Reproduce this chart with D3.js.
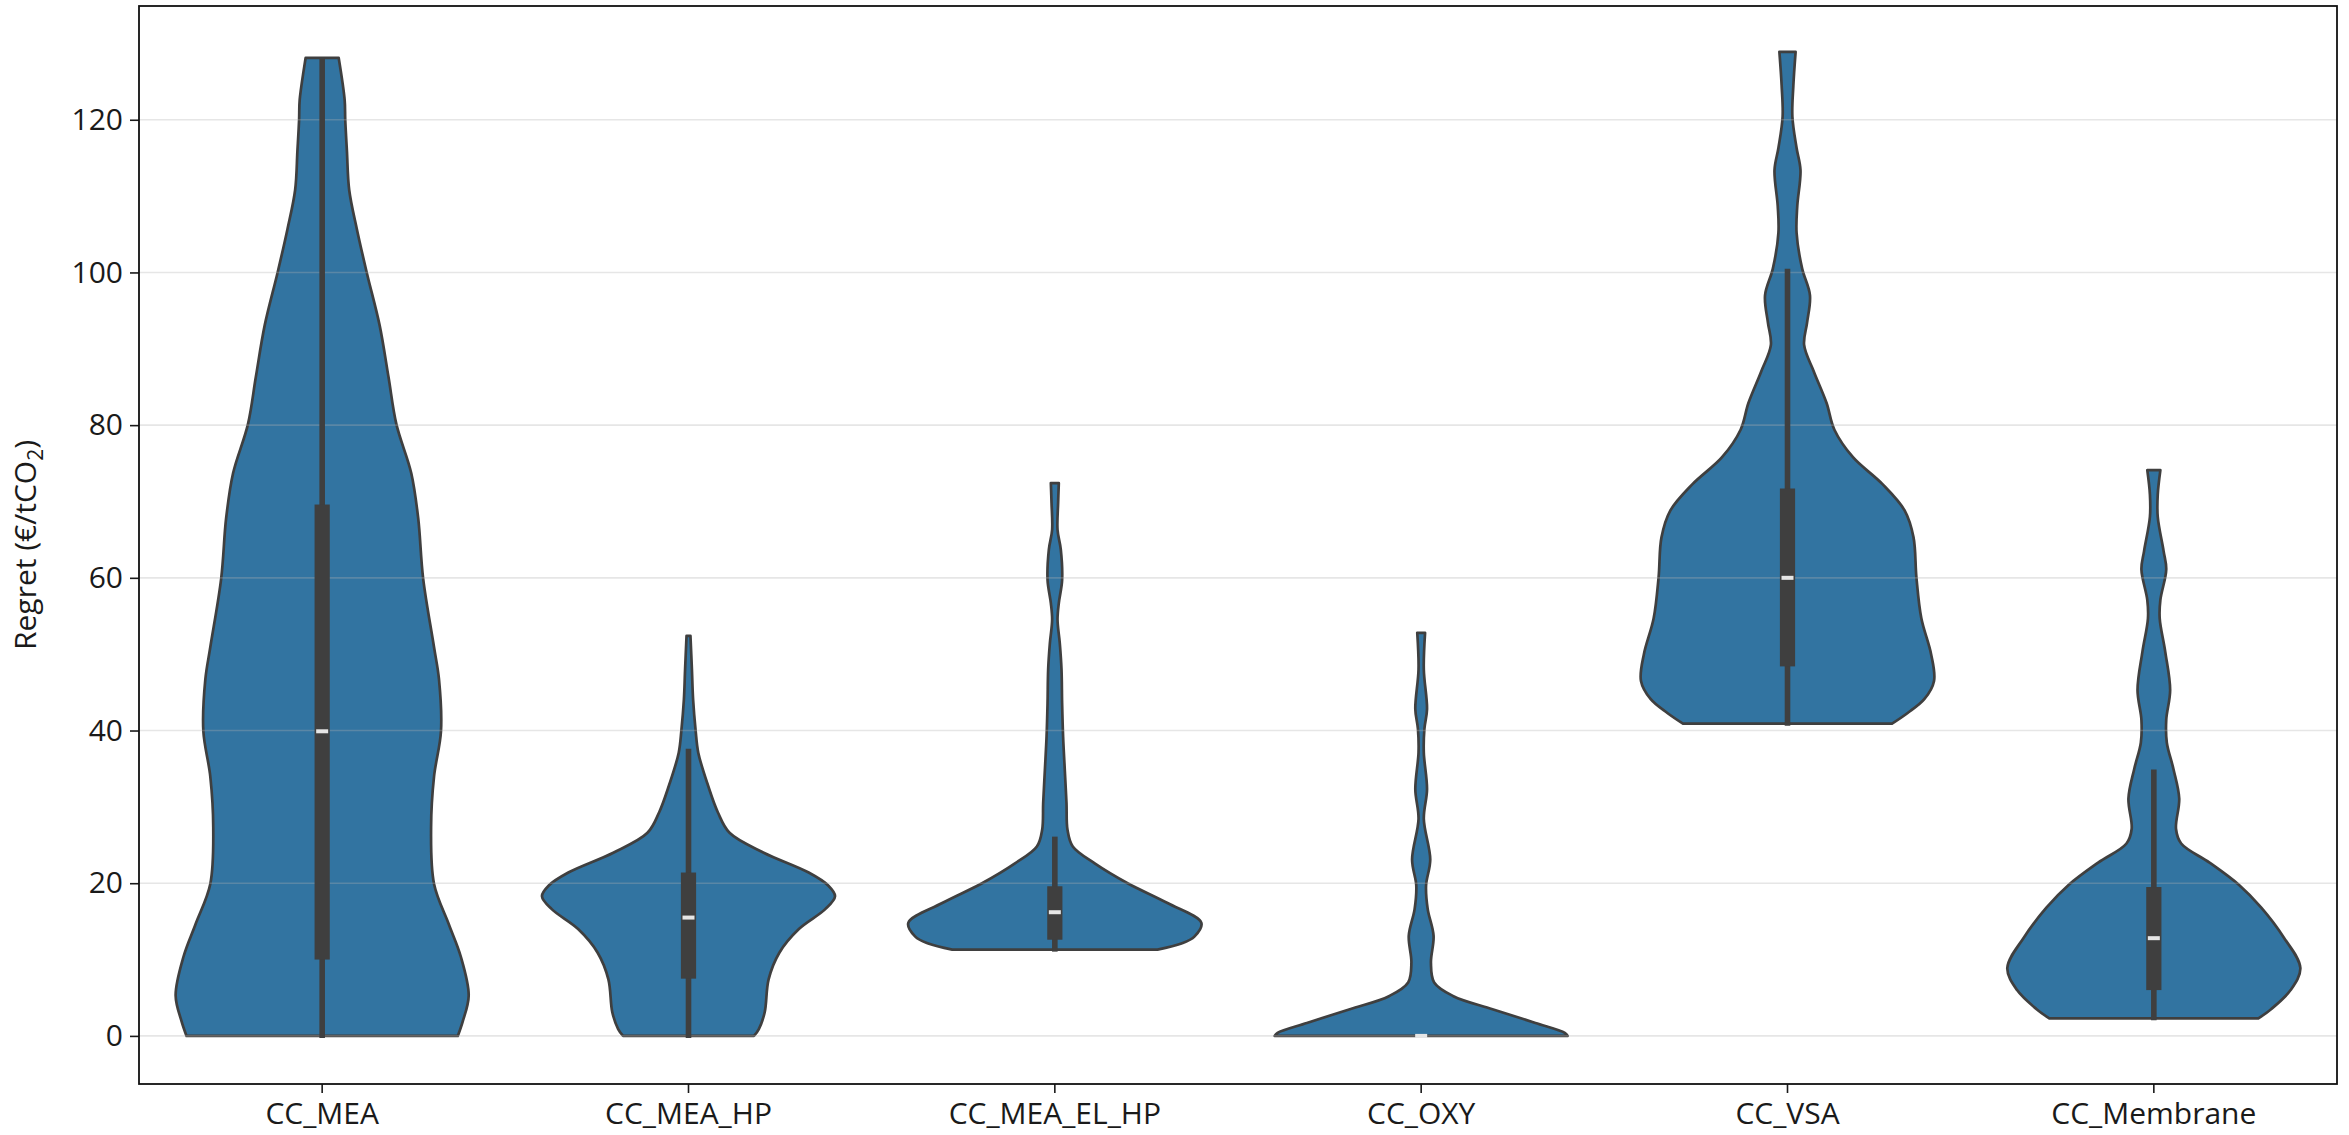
<!DOCTYPE html>
<html>
<head>
<meta charset="utf-8">
<script src="https://cdn.jsdelivr.net/npm/d3@7"></script>
<style>
  html, body { margin: 0; padding: 0; background: #fff; }
  svg { display: block; }
  text { font-family: "Open Sans", "Noto Sans", "DejaVu Sans", sans-serif; fill: #1a1a1a; }
</style>
</head>
<body>
<svg id="chart" width="2349" height="1135"></svg>
<script>
// ---------------- DATA ----------------
const categories = ["CC_MEA", "CC_MEA_HP", "CC_MEA_EL_HP", "CC_OXY", "CC_VSA", "CC_Membrane"];
const yTicks = [0, 20, 40, 60, 80, 100, 120];
const yLabel = "Regret (€/tCO";

// violin outlines: value levels (€/tCO2) and relative density (half-width) at each level
const levels_CC_MEA   = [128.1, 122.6, 120, 115.9, 110.8, 105.7, 100, 93.1, 86.3, 80.1, 73.7, 67.8, 59.9, 50.9, 46.7, 39.9, 34, 27.3, 19.9, 14.6, 10.4, 5.3, 1.9, 0];
const density_CC_MEA  = [16.7, 22.7, 23.3, 25, 27.3, 35, 45, 58, 67, 75, 90, 97, 102, 113, 118, 120, 113, 110, 113, 128, 140, 148, 142, 137];

const levels_CC_MEA_HP  = [52.4, 48, 44.1, 40, 37.1, 32.8, 29.3, 26.6, 24, 21.4, 19.7, 18.3, 16.6, 14, 10.9, 7.4, 3.1, 0.9, 0];
const density_CC_MEA_HP = [2, 3.5, 4.7, 7.3, 10, 20, 30, 42, 77, 123, 143, 150, 140, 113, 93, 82, 78, 72, 67];

const levels_CC_MEA_EL_HP  = [72.4, 69.8, 66.3, 63.7, 59.7, 56.7, 54.5, 51.4, 48, 43.6, 39.2, 34.8, 30.5, 27, 24.8, 22.6, 20, 17.4, 14.8, 13, 12.1, 11.3];
const density_CC_MEA_EL_HP = [4, 3.3, 2.7, 6, 7.3, 4, 2.7, 5, 6.7, 7.3, 8.3, 10, 11.7, 12.7, 18, 40, 73, 113, 147, 140, 127, 103];

const levels_CC_OXY  = [52.8, 48, 42.8, 40.2, 37.1, 32.3, 28.4, 23.1, 19.7, 16.6, 13.1, 9.6, 7, 5.2, 3.5, 1.7, 0.4, 0];
const density_CC_OXY = [4, 2.7, 6, 3.3, 2.7, 6, 2.7, 9.3, 5, 6.7, 12.7, 10, 13.3, 33, 73, 117, 147, 150];

const levels_CC_VSA  = [128.9, 124.5, 120.4, 116.3, 113.4, 108.7, 105.2, 100.5, 97, 93.4, 90.5, 87, 82.9, 79.4, 75.8, 72.3, 68.8, 65.3, 60, 54.7, 50, 46.5, 44.1, 42.3, 40.9];
const density_CC_VSA = [8.3, 6, 5, 9.3, 13.3, 10, 9.3, 15, 23, 20, 17, 27, 40, 48, 67, 97, 120, 129, 132, 137, 147, 150, 140, 123, 107];

const levels_CC_Membrane  = [74.1, 70.9, 68, 63.5, 61.1, 57.1, 54.7, 50.3, 45.3, 41.4, 38.4, 35, 31.1, 27.1, 25.2, 22.7, 19.8, 16.8, 12.9, 8.9, 6, 3.5, 2.3];
const density_CC_Membrane = [6.7, 4, 4, 10, 12.7, 6.7, 6, 11.7, 16.7, 12.7, 13.3, 20, 26, 22.7, 28, 57, 87, 110, 133, 150, 140, 120, 107];

// inner box statistics, one entry per category
const whiskerLow  = [0,    0,    11.3, 0, 40.9, 2.3];
const q1          = [10.0, 7.5,  12.6, 0, 48.4, 6.0];
const median      = [39.9, 15.5, 16.2, 0, 60.0, 12.8];
const q3          = [69.6, 21.4, 19.6, 0, 71.7, 19.5];
const whiskerHigh = [128.1, 37.6, 26.1, 0, 100.5, 34.9];

const levelsList  = [levels_CC_MEA, levels_CC_MEA_HP, levels_CC_MEA_EL_HP, levels_CC_OXY, levels_CC_VSA, levels_CC_Membrane];
const densityList = [density_CC_MEA, density_CC_MEA_HP, density_CC_MEA_EL_HP, density_CC_OXY, density_CC_VSA, density_CC_Membrane];

// ---------------- LAYOUT ----------------
const plot = { left: 139, right: 2337, top: 6, bottom: 1084 };
const svg = d3.select("#chart");

const x = d3.scaleBand().domain(categories).range([plot.left, plot.right]).paddingInner(0).paddingOuter(0);
const y = d3.scaleLinear().domain([-6.3, 134.9]).range([plot.bottom, plot.top]);
const maxHalf = x.bandwidth() * 0.4;

const fillColor = "#3274a1";
const lineColor = "#3f3f3f";

// violins
const gV = svg.append("g");
categories.forEach((cat, i) => {
  const cx = x(cat) + x.bandwidth() / 2;
  const dens = densityList[i];
  const dmax = d3.max(dens);
  const w = d3.scaleLinear().domain([0, dmax]).range([0, maxHalf]);
  const pts = levelsList[i].map((v, k) => ({ v, d: dens[k] }));
  const area = d3.area()
    .y(d => y(d.v))
    .x0(d => cx - w(d.d))
    .x1(d => cx + w(d.d))
    .curve(d3.curveCatmullRom.alpha(0.5));
  gV.append("path")
    .attr("d", area(pts))
    .attr("fill", fillColor)
    .attr("stroke", lineColor)
    .attr("stroke-width", 2.7)
    .attr("stroke-linejoin", "round");
});

// grid (drawn over violin bodies)
svg.append("g").selectAll("line").data(yTicks).join("line")
  .attr("x1", plot.left).attr("x2", plot.right)
  .attr("y1", d => y(d)).attr("y2", d => y(d))
  .attr("stroke", "#b0b0b0").attr("stroke-opacity", 0.32).attr("stroke-width", 1.6);

// inner boxes
const gB = svg.append("g");
categories.forEach((cat, i) => {
  const cx = x(cat) + x.bandwidth() / 2;
  if (whiskerHigh[i] > whiskerLow[i]) {
    gB.append("line")
      .attr("x1", cx).attr("x2", cx)
      .attr("y1", y(whiskerLow[i]) + 2).attr("y2", y(whiskerHigh[i]))
      .attr("stroke", lineColor).attr("stroke-width", 5.6);
  }
  if (q3[i] > q1[i]) {
    gB.append("rect")
      .attr("x", cx - 7.6).attr("width", 15.2)
      .attr("y", y(q3[i])).attr("height", y(q1[i]) - y(q3[i]))
      .attr("fill", lineColor);
  }
  gB.append("rect")
    .attr("x", cx - 6).attr("width", 12)
    .attr("y", y(median[i]) - 2).attr("height", 4)
    .attr("fill", "#e6e6e6");
});

// axes
const yAxis = d3.axisLeft(y).tickValues(yTicks).tickSize(9).tickPadding(7).tickFormat(d3.format("d"));
const gy = svg.append("g").attr("transform", `translate(${plot.left},0)`).call(yAxis);
gy.select(".domain").remove();
gy.selectAll(".tick line").attr("stroke", "#1a1a1a").attr("stroke-width", 1.6);
gy.selectAll(".tick text").attr("font-size", 30).attr("fill", "#1a1a1a");

const xAxis = d3.axisBottom(x).tickSize(9).tickPadding(10);
const gx = svg.append("g").attr("transform", `translate(0,${plot.bottom})`).call(xAxis);
gx.select(".domain").remove();
gx.selectAll(".tick line").attr("stroke", "#1a1a1a").attr("stroke-width", 1.6);
gx.selectAll(".tick text").attr("font-size", 30).attr("fill", "#1a1a1a");

// frame
svg.append("rect")
  .attr("x", plot.left).attr("y", plot.top)
  .attr("width", plot.right - plot.left).attr("height", plot.bottom - plot.top)
  .attr("fill", "none").attr("stroke", "#111").attr("stroke-width", 1.8);

// y label
const yl = svg.append("text")
  .attr("transform", `translate(36,${(plot.top + plot.bottom) / 2}) rotate(-90)`)
  .attr("text-anchor", "middle")
  .attr("font-size", 30);
yl.append("tspan").text(yLabel);
yl.append("tspan").text("2").attr("font-size", 21).attr("dy", 7);
yl.append("tspan").text(")").attr("dy", -7);
</script>
</body>
</html>
